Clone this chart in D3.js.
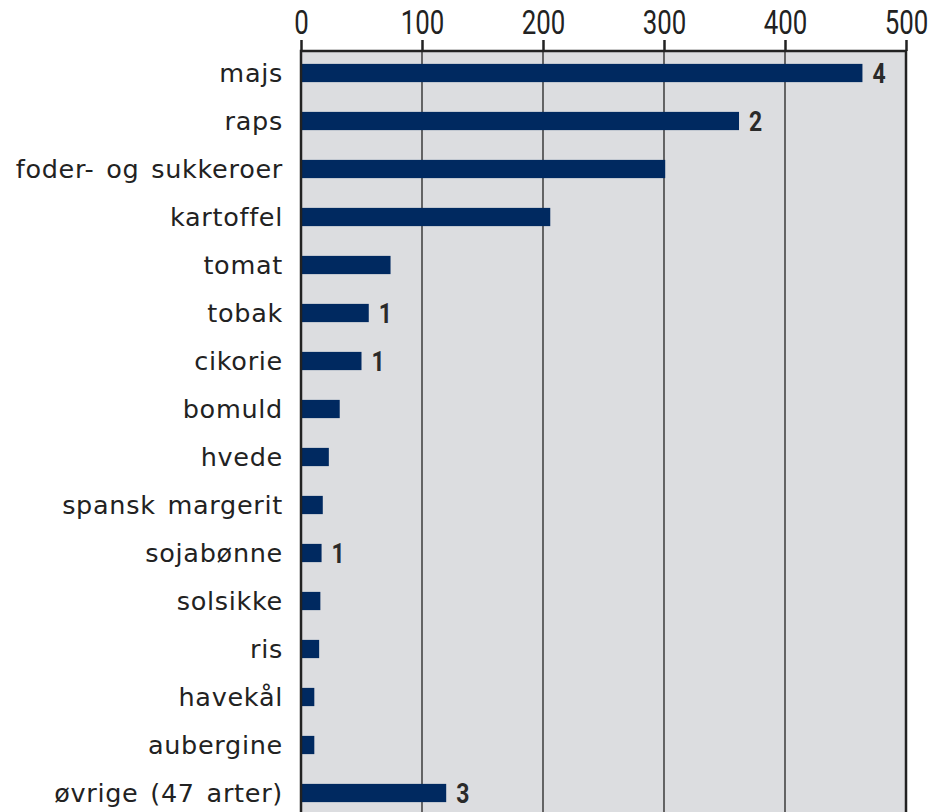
<!DOCTYPE html>
<html>
<head>
<meta charset="utf-8">
<script src="https://cdn.jsdelivr.net/npm/d3@7"></script>
<style>
  body { margin: 0; background: #fff; }
  svg { display: block; font-family: "DejaVu Sans", sans-serif; }
</style>
</head>
<body>
<svg id="chart" width="929" height="812"></svg>
<script>
var categories = ['majs', 'raps', 'foder- og sukkeroer', 'kartoffel', 'tomat', 'tobak', 'cikorie',
  'bomuld', 'hvede', 'spansk margerit', 'sojabønne', 'solsikke', 'ris', 'havekål', 'aubergine',
  'øvrige (47 arter)'];
var values = [464, 362, 301, 206, 74, 56, 50, 32, 23, 18, 17, 16, 15, 11, 11, 120];
var notes = ['4', '2', '', '', '', '1', '1', '', '', '', '1', '', '', '', '', '3'];
var ticks = [0, 100, 200, 300, 400, 500];

var svg = d3.select('#chart');
var plotL = 301, plotR = 906, plotT = 51, plotB = 830;

var x = d3.scaleLinear().domain([0, 500]).range([plotL, plotR]);
var y = d3.scaleBand().domain(categories).range([49, 817]).paddingInner(0.62).paddingOuter(0.31);

// plot background
svg.append('rect')
  .attr('x', plotL).attr('y', plotT)
  .attr('width', plotR - plotL).attr('height', plotB - plotT)
  .style('fill', '#dcdde0');

// gridlines
svg.selectAll('line.grid')
  .data(ticks.slice(1, 5))
  .enter().append('line')
  .attr('class', 'grid')
  .attr('x1', function(d){ return x(d); })
  .attr('x2', function(d){ return x(d); })
  .attr('y1', plotT).attr('y2', plotB)
  .style('stroke', '#222').style('stroke-width', 1.3);

// bars
svg.selectAll('rect.bar')
  .data(values)
  .enter().append('rect')
  .attr('class', 'bar')
  .attr('x', x(0))
  .attr('y', function(d, i){ return y(categories[i]); })
  .attr('width', function(d){ return x(d) - x(0); })
  .attr('height', y.bandwidth())
  .style('fill', '#002960');

// bar notes (narrowed bold digits)
svg.selectAll('text.note')
  .data(values)
  .enter().append('text')
  .attr('class', 'note')
  .attr('transform', function(d, i){
    return 'translate(' + (x(d) + 10) + ',' + (y(categories[i]) + y.bandwidth() / 2) + ') scale(0.85,1)';
  })
  .attr('dy', '0.36em')
  .text(function(d, i){ return notes[i]; })
  .style('font-size', '27px').style('font-weight', 'bold').style('fill', '#2a2a2a')
  .style('font-family', 'Roboto, sans-serif');

// frame
svg.append('rect')
  .attr('x', plotL).attr('y', plotT)
  .attr('width', plotR - plotL).attr('height', plotB - plotT)
  .style('fill', 'none').style('stroke', '#222').style('stroke-width', 2.5);

// top axis
var axis = d3.axisTop(x).tickValues(ticks).tickSize(11).tickPadding(6);
var gAxis = svg.append('g').attr('transform', 'translate(0,' + plotT + ')').call(axis);
gAxis.select('.domain').remove();
gAxis.selectAll('.tick line').style('stroke', '#222').style('stroke-width', 2.5);
gAxis.selectAll('.tick text')
  .attr('transform', 'scale(0.76,1)')
  .style('font-size', '34px').style('fill', '#222')
  .style('font-family', 'Roboto, sans-serif');

// category labels
svg.selectAll('text.cat')
  .data(categories)
  .enter().append('text')
  .attr('class', 'cat')
  .attr('x', 283)
  .attr('y', function(d){ return y(d) + y.bandwidth() / 2; })
  .attr('dy', '0.36em')
  .attr('text-anchor', 'end')
  .text(function(d){ return d; })
  .style('font-size', '25.5px').style('fill', '#222')
  .style('letter-spacing', '0.7px').style('word-spacing', '3px');
</script>
</body>
</html>
